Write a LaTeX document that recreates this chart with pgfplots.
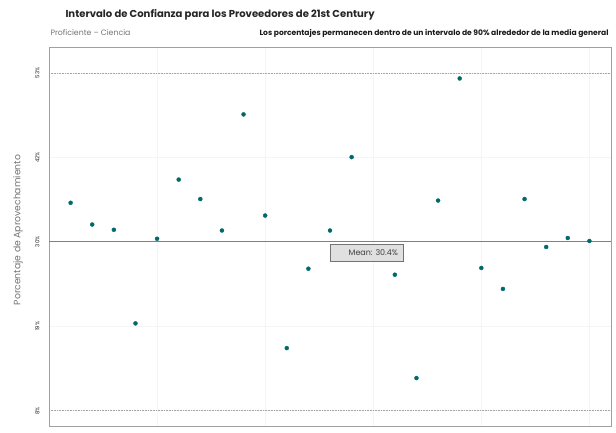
\documentclass[border=0pt]{standalone}
\usepackage{pgfplots}
\pgfplotsset{compat=1.18}
\usepackage{fontspec}
\setmainfont{Poppins}
\definecolor{dotteal}{HTML}{006A6A}
\definecolor{meanline}{HTML}{6A8A8A}
\definecolor{framegray}{HTML}{A0A0A0}
\begin{document}
\begin{tikzpicture}[x=1bp,y=1bp]
\path (0,0) rectangle (616,428);
\begin{axis}[
  at={(49bp,2bp)}, anchor=south west,
  scale only axis, width=562bp, height=379bp,
  xmin=0, xmax=26, ymin=5.8, ymax=56.4,
  xtick={5,10,15,20,25}, xticklabels={},
  ytick={7.85,19.12,30.4,41.67,52.95},
  yticklabels={8\%,19\%,30\%,42\%,53\%},
  yticklabel style={rotate=90, anchor=south, font=\fontsize{5.5}{6}\selectfont, text=black!85},
  yticklabel shift=6bp,
  grid=major, major grid style={color=black!4, line width=0.5bp},
  tick style={draw=none},
  axis line style={framegray, line width=0.8bp},
  ylabel={Porcentaje de Aprovechamiento},
  every axis y label/.style={at={(axis description cs:-0.055,0.517)}, rotate=90, anchor=center, font=\fontsize{9.3}{10}\selectfont, text=black!55},
  clip=false,
]
\addplot[black!35, densely dotted, line width=0.6bp, forget plot] coordinates {(0,52.95) (26,52.95)};
\addplot[black!35, densely dotted, line width=0.6bp, forget plot] coordinates {(0,7.85) (26,7.85)};
\addplot[meanline, line width=0.7bp, forget plot] coordinates {(0,30.4) (26,30.4)};
\addplot[only marks, mark=*, mark size=2bp, color=dotteal] coordinates {
(1,35.6) (2,32.7) (3,32.0) (4,19.5) (5,30.8) (6,38.7) (7,36.1) (8,31.9)
(9,47.4) (10,33.9) (11,16.2) (12,26.8) (13,31.9) (14,41.7)
(16,26.0) (17,12.2) (18,35.9) (19,52.2) (20,26.9) (21,24.1) (22,36.1)
(23,29.7) (24,30.9) (25,30.5)
};
\node[draw=black!55, fill=black!12, line width=0.5bp, minimum width=73bp, minimum height=17bp, inner sep=0pt, font=\fontsize{8}{9}\selectfont, text=black!75] at (axis cs:14.68,28.93) {\hspace*{14bp}Mean: 30.4\%};
\end{axis}
\node[anchor=base west, font=\bfseries\fontsize{10.1}{11}\selectfont, text=black!85] at (62,410) {Intervalo de Confianza para los Proveedores de 21st Century};
\node[anchor=base west, font=\fontsize{7.8}{8}\selectfont, text=black!55] at (47,392) {Proficiente – Ciencia};
\node[anchor=base east, font=\bfseries\fontsize{7.6}{8}\selectfont, text=black!90] at (612,392) {Los porcentajes permanecen dentro de un intervalo de 90\% alrededor de la media general};
\end{tikzpicture}
\end{document}
